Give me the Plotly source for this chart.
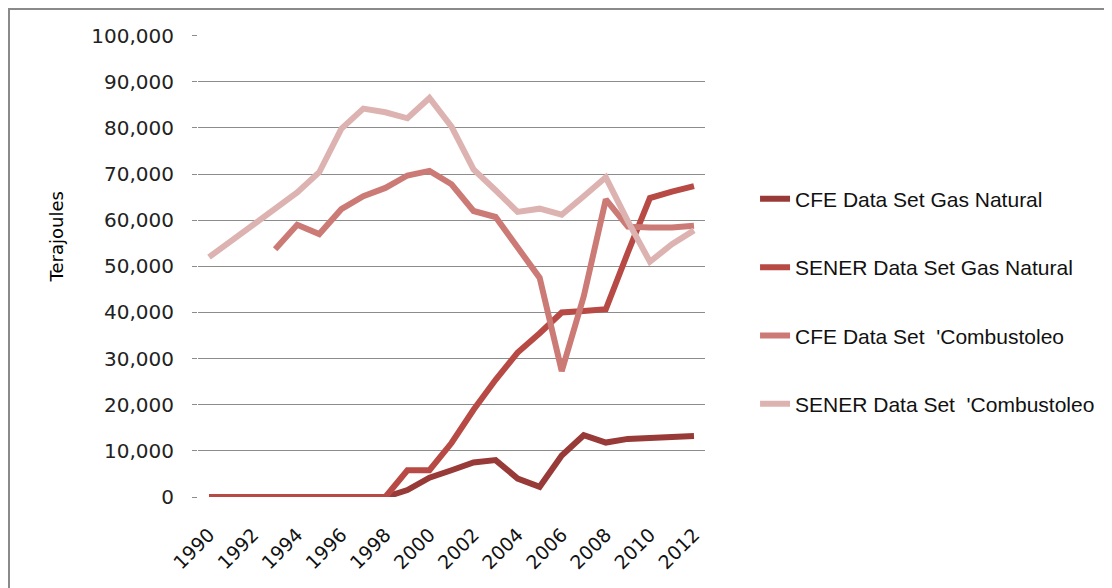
import plotly.graph_objects as go

years = list(range(1990, 2013))
year_ticks = list(range(1990, 2013, 2))

cfe_gas = [0, 0, 0, 0, 0, 0, 0, 0, 0,
           1500, 4200, 5800, 7500, 8000, 4000, 2200, 9000, 13400, 11800, 12600, 12700, 12900, 13200]
sener_gas = [0, 0, 0, 0, 0, 0, 0, 0, 0,
             5800, 5800, 11700, 18900, 25400, 31300, 35500, 40000, 40300, 40700, 53000, 64800, 66200, 67400]
cfe_comb = [None, None, None,
            53700, 59000, 57000, 62400, 65200, 67000, 69700, 70700, 67800, 62000, 60700,
            54000, 47500, 27300, 43500, 64500, 58600, 58400, 58400, 58800]
sener_comb = [52000, 55500, 58800, 62500, 66000, 70400, 79800, 84200, 83400, 82100, 86500, 80300,
              71000, 66500, 61800, 62500, 61200, 65200, 69300, 59800, 51000, 54800, 57800]

names = ["CFE Data Set Gas Natural", "SENER Data Set Gas Natural",
         "CFE Data Set  'Combustoleo", "SENER Data Set  'Combustoleo"]
colores = ["#983a37", "#b84a45", "#cc7a76", "#ddb3b1"]

fig = go.Figure()
for i, (serie, nombre) in enumerate(zip([cfe_gas, sener_gas, cfe_comb, sener_comb], names)):
    fig.add_trace(go.Scatter(
        x=years, y=serie, name=nombre, mode="lines",
        line=dict(color=colores[i], width=6),
        legendgroup=str(i),
    ))

# la pagina tiene 8px de margen en el body, por eso 1104x580
fig.update_layout(
    width=1104, height=580,
    margin=dict(l=190, r=407, t=27, b=91, autoexpand=False),
    plot_bgcolor="white", paper_bgcolor="white",
    font=dict(family="DejaVu Sans", color="#222222"),
    legend=dict(
        x=1.0987, y=0.689, xanchor="left", yanchor="top",
        font=dict(family="Liberation Sans", size=21, color="#111111"),
        traceorder="grouped", tracegroupgap=38,
        bgcolor="rgba(0,0,0,0)",
    ),
    shapes=[dict(type="rect", xref="paper", yref="paper",
                 x0=-0.3728, x1=1.82, y0=-0.23, y1=1.0563,
                 line=dict(color="#8a8a8a", width=2), layer="below")],
    annotations=[dict(text="Terajoules", xref="paper", yref="paper",
                      x=-0.280, y=0.562, xanchor="center", yanchor="middle",
                      textangle=-90, showarrow=False,
                      font=dict(family="DejaVu Sans", size=18, color="#000000"))],
)

fig.update_xaxes(
    range=[1989.5, 2012.5], tickvals=year_ticks, tickangle=-45,
    showgrid=False, zeroline=False, showline=False,
    tickfont=dict(size=19, color="#111111"), ticklabelstandoff=22,
)
fig.update_yaxes(
    range=[0, 100150], tickvals=list(range(0, 100001, 10000)), tickformat=",d",
    showgrid=True, gridcolor="#8c8c8c", gridwidth=1, zeroline=False, showline=False,
    ticks="outside", ticklen=5, tickcolor="#8c8c8c",
    tickfont=dict(size=20, color="#222222"), ticklabelstandoff=14,
)

fig.write_html("out.html")
